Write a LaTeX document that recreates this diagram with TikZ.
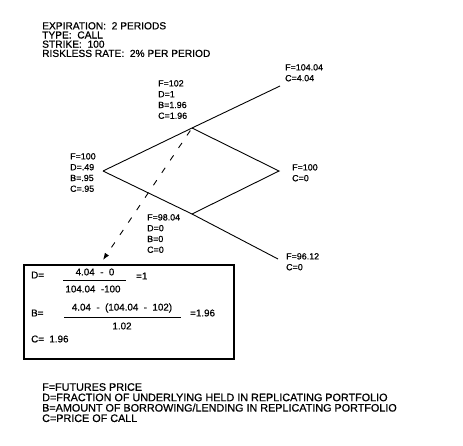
\documentclass[tikz,border=0pt]{standalone}
\usepackage{fontspec}
\setmainfont{Liberation Sans}[FakeBold=0.7]
\usetikzlibrary{arrows.meta}

\begin{document}
\begin{tikzpicture}[x=1pt, y=-1pt,
    lbl/.style={anchor=north west, inner sep=0pt, align=left, font=\fontsize{8.9}{10.8}\selectfont},
    note/.style={anchor=north west, inner sep=0pt, align=left, font=\fontsize{10.2}{9.2}\selectfont},
    calc/.style={inner sep=0pt, font=\fontsize{9.8}{11}\selectfont},
    branch/.style={line width=0.9pt},
    arr/.style={-{Latex[length=7pt, width=5pt]}, line width=0.9pt, dash pattern=on 6pt off 9pt},
]
\useasboundingbox[fill=white] (0,0) rectangle (463,445);

% --- Header ---
\node[note] (head) at (42,22) {EXPIRATION:~~2 PERIODS\\TYPE:~~CALL\\STRIKE:~~100\\RISKLESS RATE:~~2\% PER PERIOD};

% --- Tree ---
\coordinate (n0)  at (103,171);
\coordinate (nu)  at (192,128);
\coordinate (nd)  at (192,214);
\coordinate (nuu) at (280,86);
\coordinate (nm)  at (279,171);
\coordinate (ndd) at (278,259);

\draw[branch] (n0) -- (nu) -- (nuu);
\draw[branch] (n0) -- (nd) -- (ndd);
\draw[branch] (nu) -- (nm) -- (nd);

\node[lbl] (l0)   at (70,153)  {F=100\\D=.49\\B=.95\\C=.95};
\node[lbl] (lu)   at (158,80)  {F=102\\D=1\\B=1.96\\C=1.96};
\node[lbl] (ld)   at (147,214) {F=98.04\\D=0\\B=0\\C=0};
\node[lbl] (luu)  at (285,64)  {F=104.04\\C=4.04};
\node[lbl] (lm)   at (292,164) {F=100\\C=0};
\node[lbl] (ldd)  at (286,253) {F=96.12\\C=0};

% --- Calculation box ---
\coordinate (tip) at (103,260);
\draw[arr, shorten <=3pt] (nu) -- (tip);
\draw[line width=1.6pt] (24,265) rectangle (234,359);

\node[calc, anchor=west] (dlbl) at (31,275) {D=};
\node[calc] (dnum) at (95,272) {4.04~~-~~0};
\node[calc] (dden) at (93,289) {104.04~~-100};
\draw[line width=0.8pt] (63,280) -- (126,280);
\node[calc, anchor=west] (dres) at (136,276) {=1};

\node[calc, anchor=west] (blbl) at (31,313) {B=};
\node[calc] (bnum) at (122,308) {4.04~~-~~(104.04~~-~~102)};
\node[calc] (bden) at (122,326) {1.02};
\draw[line width=0.8pt] (64,317) -- (181,317);
\node[calc, anchor=west] (bres) at (190,313) {=1.96};

\node[calc, anchor=west] (clbl) at (31,339) {C=~~1.96};

% --- Legend ---
\node[note, font=\fontsize{10.8}{10.4}\selectfont] (key) at (42,383)
    {F=FUTURES PRICE\\D=FRACTION OF UNDERLYING HELD IN REPLICATING PORTFOLIO\\B=AMOUNT OF BORROWING/LENDING IN REPLICATING PORTFOLIO\\C=PRICE OF CALL};
\end{tikzpicture}
\end{document}
